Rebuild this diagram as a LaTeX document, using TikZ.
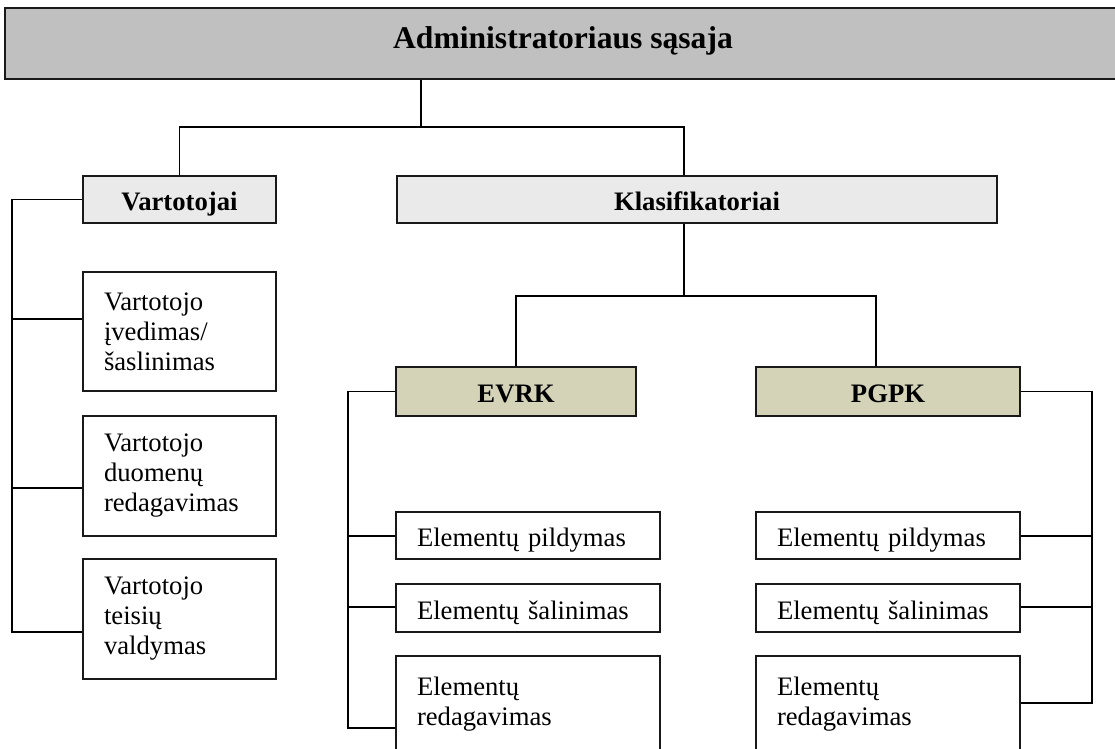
\documentclass[tikz,border=0pt]{standalone}
\usepackage{fontspec}
\setmainfont{Liberation Serif}
\definecolor{bargray}{HTML}{C0C0C0}
\definecolor{headgray}{HTML}{EAEAEA}
\definecolor{khaki}{HTML}{D4D3B8}
\begin{document}
\begin{tikzpicture}[x=0.75pt,y=-0.75pt,
  outline/.style={draw=black!90, line width=1.4pt, rectangle, inner sep=0pt},
  barbox/.style={outline, fill=bargray, minimum width=840pt, minimum height=53.25pt},
  headbox/.style={outline, font=\fontsize{20}{22.5}\selectfont\bfseries,
    text height=16.5pt, text depth=0pt},
  lighthead/.style={headbox, fill=headgray, minimum height=35.25pt},
  khakihead/.style={headbox, fill=khaki, minimum height=36.75pt},
  userbox/.style={outline, fill=white, font=\fontsize{20}{22.5}\selectfont,
    align=left, text width=113.25pt, inner xsep=15.75pt,
    minimum width=144.75pt},
  itembox/.style={outline, fill=white, font=\fontsize{20}{22.5}\selectfont,
    align=left, text width=166.5pt, inner xsep=15.75pt,
    minimum width=198pt},
  oneline/.style={text height=16.5pt, text depth=0pt},
  wire/.style={draw=black, line width=1.2pt}
]
\useasboundingbox (0,0) rectangle (1115,749);
\clip (0,0) rectangle (1115,749);

% top bar with the title
\node[barbox] (bar) at (565,43.5) {};
\node[anchor=base, font=\fontsize{23.7}{26}\selectfont\bfseries] (title) at (563,49)
  {Administratoriaus sąsaja};

% second level
\node[lighthead, minimum width=144.75pt] (vart) at (179.5,199.5) {Vartotojai};
\node[lighthead, minimum width=450pt] (klas) at (697,199.5) {Klasifikatoriai};

% user actions
\node[userbox, minimum height=89.25pt] (v1) at (179.5,331.5)
  {Vartotojo\\įvedimas/\\šaslinimas};
\node[userbox, minimum height=90pt] (v2) at (179.5,476)
  {Vartotojo\\duomenų\\redagavimas};
\node[userbox, minimum height=90pt] (v3) at (179.5,619)
  {Vartotojo\\teisių\\valdymas};

% classifiers
\node[khakihead, minimum width=180pt] (evrk) at (516,391.5) {EVRK};
\node[khakihead, minimum width=198pt] (pgpk) at (888,391.5) {PGPK};

% classifier actions
\node[itembox, oneline, minimum height=35.25pt] (e1) at (528,535.5) {Elementų pildymas};
\node[itembox, oneline, minimum height=36pt] (e2) at (528,608) {Elementų šalinimas};
\node[itembox, minimum height=90pt] (e3) at (528,716) {Elementų\\redagavimas\\\mbox{}};
\node[itembox, oneline, minimum height=35.25pt] (p1) at (888,535.5) {Elementų pildymas};
\node[itembox, oneline, minimum height=36pt] (p2) at (888,608) {Elementų šalinimas};
\node[itembox, minimum height=90pt] (p3) at (888,716) {Elementų\\redagavimas\\\mbox{}};

% junction points of the connectors
\coordinate (jTop) at (421,127);
\coordinate (kTop) at (684,127);
\coordinate (kMid) at (684,296);
\coordinate (pTop) at (876,296);
\coordinate (vs1) at (12,319);
\coordinate (vs2) at (12,488);
\coordinate (vs3) at (12,632);
\coordinate (es1) at (348,536);
\coordinate (es2) at (348,607);
\coordinate (es3) at (348,728);
\coordinate (ps1) at (1092,536);
\coordinate (ps2) at (1092,607);
\coordinate (ps3) at (1092,703);

% tree connectors
\draw[wire] (bar.south -| jTop) -- (jTop);
\draw[wire] (vart.north) |- (kTop) -- (kTop |- klas.north);
\draw[wire] (klas.south -| kMid) -- (kMid);
\draw[wire] (evrk.north) |- (pTop) -- (pTop |- pgpk.north);

\draw[wire] (vart.west) -| (vs3) -- (vs3 -| v3.west);
\draw[wire] (vs1) -- (vs1 -| v1.west);
\draw[wire] (vs2) -- (vs2 -| v2.west);

\draw[wire] (evrk.west) -| (es3) -- (es3 -| e3.west);
\draw[wire] (es1) -- (es1 -| e1.west);
\draw[wire] (es2) -- (es2 -| e2.west);

\draw[wire] (pgpk.east) -| (ps3) -- (ps3 -| p3.east);
\draw[wire] (ps1) -- (ps1 -| p1.east);
\draw[wire] (ps2) -- (ps2 -| p2.east);
\end{tikzpicture}
\end{document}
